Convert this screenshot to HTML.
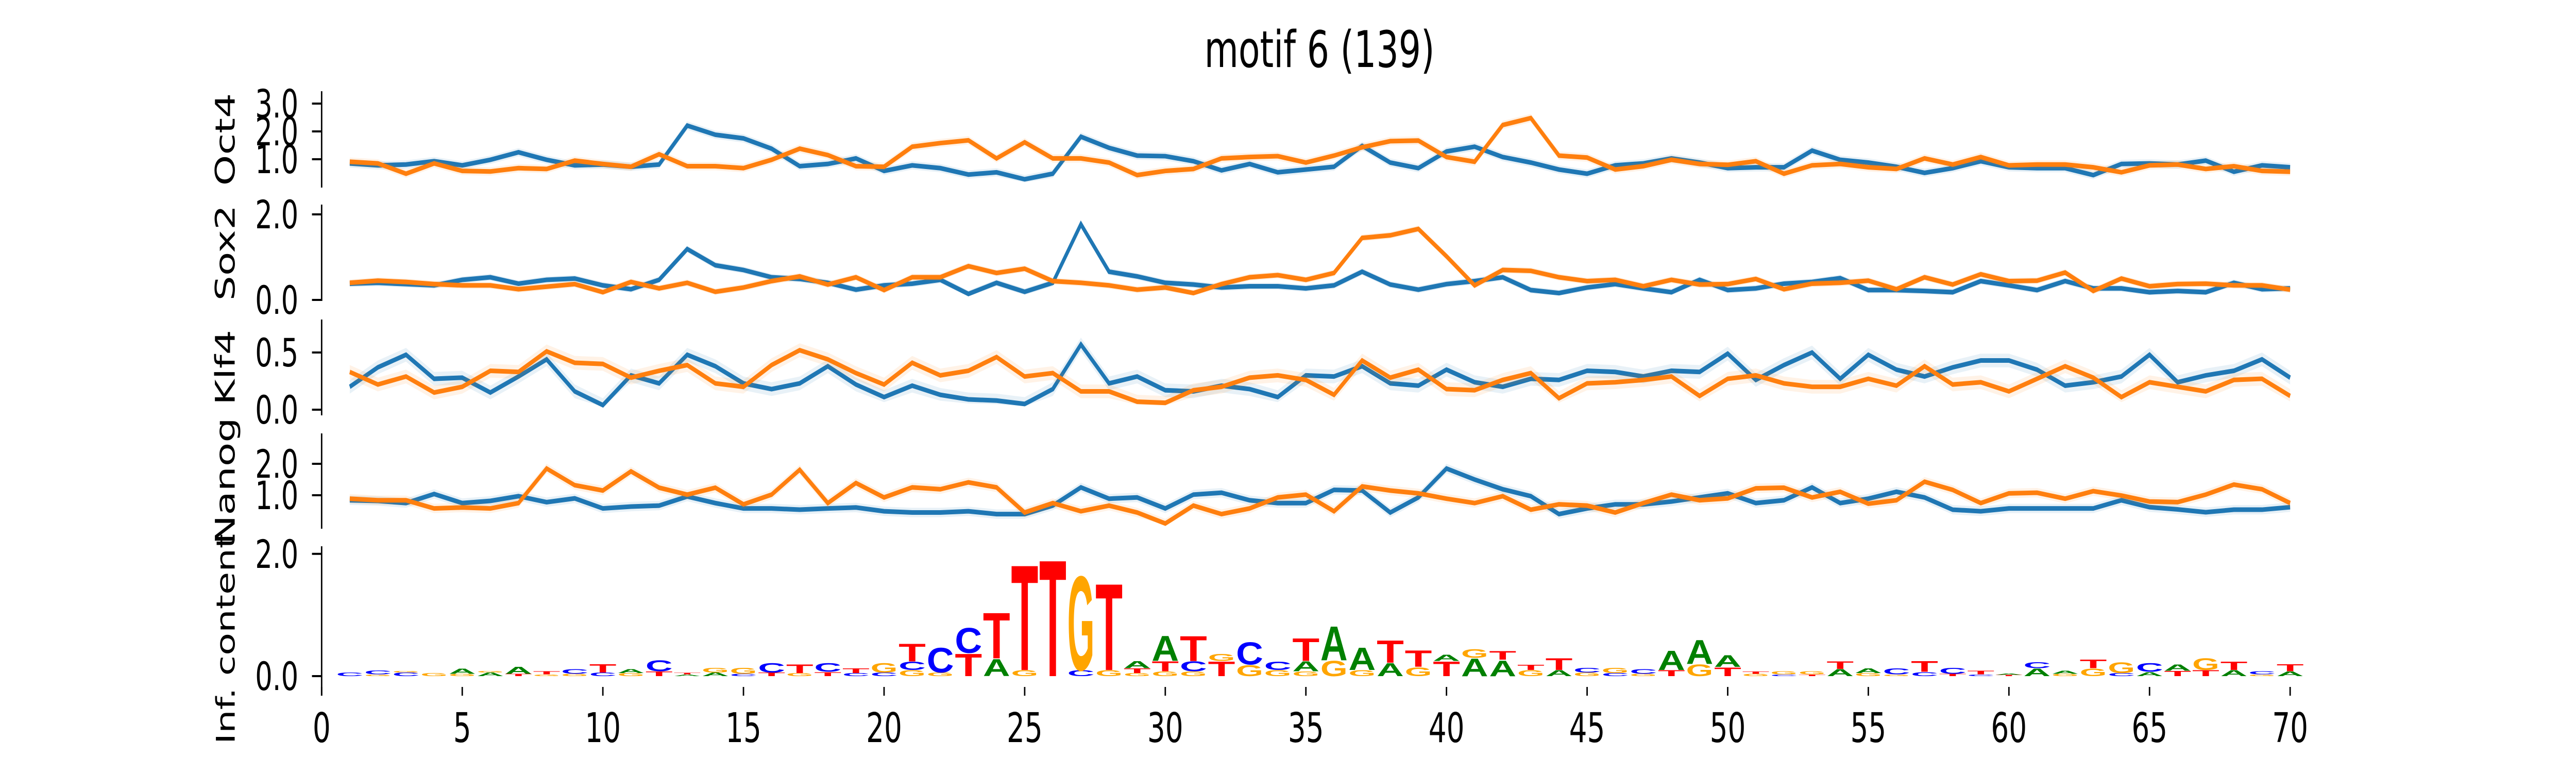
<!DOCTYPE html>
<html><head><meta charset="utf-8"><title>motif 6</title>
<style>html,body{margin:0;padding:0;background:#fff;width:100%;height:100%;overflow:hidden}svg{display:block;position:absolute;left:0;top:0;width:100vw;height:100vh}</style>
</head><body>
<svg id="chart" xmlns="http://www.w3.org/2000/svg" viewBox="0 0 7200 1500" preserveAspectRatio="none">
<text x="3688" y="130" font-family="DejaVu Sans, Liberation Sans, sans-serif" font-size="98" text-anchor="middle">motif 6 (139)</text>
<g id="panels"></g>
</svg>
<script>
const positions = [1,2,3,4,5,6,7,8,9,10,11,12,13,14,15,16,17,18,19,20,21,22,23,24,25,26,27,28,29,30,31,32,33,34,35,36,37,38,39,40,41,42,43,44,45,46,47,48,49,50,51,52,53,54,55,56,57,58,59,60,61,62,63,64,65,66,67,68,69,70];
const xTicks = [0,5,10,15,20,25,30,35,40,45,50,55,60,65,70];
const oct4Blue = [0.85,0.78,0.81,0.93,0.78,0.98,1.25,0.98,0.78,0.81,0.73,0.81,2.21,1.88,1.75,1.38,0.75,0.83,1.03,0.58,0.78,0.68,0.45,0.53,0.28,0.48,1.81,1.41,1.13,1.11,0.93,0.6,0.83,0.53,0.63,0.73,1.48,0.88,0.68,1.28,1.45,1.08,0.88,0.63,0.48,0.78,0.85,1.03,0.88,0.68,0.71,0.71,1.31,0.98,0.88,0.73,0.51,0.68,0.93,0.71,0.68,0.68,0.43,0.83,0.85,0.81,0.95,0.55,0.78,0.71];
const oct4Orange = [0.91,0.85,0.48,0.85,0.58,0.56,0.68,0.65,0.95,0.83,0.73,1.18,0.75,0.75,0.68,0.98,1.38,1.15,0.75,0.73,1.45,1.58,1.68,1.03,1.61,1.03,1.03,0.88,0.43,0.58,0.65,1.03,1.08,1.11,0.88,1.13,1.43,1.65,1.67,1.08,0.91,2.23,2.48,1.13,1.06,0.63,0.75,0.98,0.83,0.8,0.93,0.48,0.78,0.83,0.71,0.65,1.03,0.81,1.08,0.78,0.81,0.81,0.71,0.53,0.78,0.81,0.65,0.75,0.58,0.55];
const sox2Blue = [0.38,0.40,0.37,0.34,0.47,0.53,0.38,0.47,0.50,0.34,0.25,0.47,1.19,0.81,0.70,0.53,0.49,0.40,0.24,0.34,0.38,0.47,0.14,0.40,0.19,0.40,1.77,0.66,0.55,0.40,0.36,0.29,0.32,0.32,0.27,0.34,0.66,0.36,0.24,0.37,0.44,0.53,0.23,0.16,0.29,0.37,0.27,0.18,0.47,0.23,0.27,0.38,0.42,0.51,0.23,0.23,0.21,0.18,0.44,0.34,0.23,0.44,0.27,0.27,0.18,0.21,0.18,0.40,0.25,0.27];
const sox2Orange = [0.40,0.45,0.42,0.37,0.34,0.34,0.25,0.31,0.37,0.18,0.42,0.27,0.40,0.19,0.29,0.44,0.55,0.36,0.53,0.23,0.53,0.53,0.79,0.63,0.73,0.44,0.40,0.34,0.24,0.29,0.16,0.37,0.53,0.58,0.47,0.63,1.45,1.51,1.66,1.02,0.34,0.70,0.68,0.53,0.44,0.47,0.32,0.47,0.36,0.37,0.49,0.25,0.38,0.40,0.45,0.25,0.53,0.36,0.60,0.44,0.45,0.64,0.21,0.50,0.32,0.37,0.38,0.34,0.34,0.24];
const klf4Blue = [0.20,0.37,0.48,0.27,0.28,0.15,0.29,0.44,0.16,0.04,0.30,0.23,0.48,0.38,0.23,0.18,0.23,0.38,0.22,0.11,0.21,0.13,0.09,0.08,0.05,0.18,0.57,0.23,0.29,0.17,0.16,0.21,0.18,0.11,0.30,0.29,0.38,0.23,0.21,0.35,0.24,0.20,0.27,0.26,0.34,0.33,0.29,0.34,0.33,0.49,0.26,0.39,0.50,0.27,0.48,0.35,0.29,0.37,0.43,0.43,0.35,0.21,0.24,0.29,0.48,0.24,0.30,0.34,0.44,0.28];
const klf4Orange = [0.33,0.22,0.29,0.15,0.20,0.34,0.33,0.51,0.41,0.40,0.28,0.34,0.39,0.23,0.20,0.39,0.52,0.44,0.32,0.22,0.41,0.30,0.34,0.46,0.29,0.32,0.16,0.16,0.07,0.06,0.17,0.20,0.28,0.30,0.26,0.13,0.43,0.28,0.35,0.18,0.17,0.26,0.32,0.10,0.23,0.24,0.26,0.29,0.12,0.27,0.30,0.23,0.20,0.20,0.27,0.21,0.38,0.22,0.24,0.16,0.27,0.38,0.28,0.11,0.24,0.20,0.16,0.26,0.27,0.12];
const nanogBlue = [0.84,0.82,0.75,1.04,0.75,0.82,0.97,0.78,0.90,0.58,0.64,0.67,0.96,0.75,0.58,0.58,0.54,0.58,0.61,0.49,0.45,0.45,0.49,0.40,0.40,0.67,1.25,0.89,0.93,0.58,1.02,1.08,0.84,0.75,0.75,1.17,1.15,0.45,0.93,1.85,1.50,1.19,0.97,0.40,0.58,0.71,0.71,0.80,0.93,1.06,0.75,0.84,1.25,0.75,0.89,1.11,0.93,0.54,0.49,0.58,0.58,0.58,0.58,0.84,0.62,0.55,0.46,0.54,0.54,0.62];
const nanogOrange = [0.89,0.84,0.84,0.58,0.61,0.58,0.75,1.85,1.32,1.15,1.76,1.24,1.02,1.24,0.71,1.02,1.81,0.75,1.39,0.93,1.25,1.19,1.41,1.25,0.45,0.75,0.49,0.67,0.45,0.10,0.67,0.40,0.58,0.93,1.02,0.49,1.28,1.15,1.06,0.89,0.75,0.97,0.54,0.71,0.67,0.45,0.75,1.02,0.84,0.90,1.22,1.24,0.93,1.11,0.73,0.84,1.43,1.17,0.75,1.06,1.08,0.89,1.13,0.99,0.80,0.78,1.02,1.34,1.19,0.75];
const oct4Ticks = [1,2,3];
const sox2Ticks = [0,2];
const klf4Ticks = [0,0.5];
const nanogTicks = [1,2];
const logoTicks = [0,2];
const logoLetters = ["C","GC","CG","G","GA","AG","TA","GT","GC","CT","GA","TC","AT","AG","CG","TC","GT","TC","CT","CG","GCT","GC","TC","AT","GT","T","CG","GT","GTA","GTA","GCT","TG","GC","GC","GAT","GA","GA","AT","GT","TA","AG","AT","GT","AT","GC","CG","GC","TA","GA","TA","GT","CG","TG","AT","GA","GC","CT","TC","CT","TA","AC","GA","GT","CG","AC","TA","TG","AT","GC","AT"];
const logoHeights = [[0.06],[0.03,0.07],[0.06,0.03],[0.05],[0.04,0.09],[0.06,0.03],[0.04,0.12],[0.03,0.05],[0.04,0.08],[0.06,0.14],[0.05,0.07],[0.08,0.19],[0.03,0.03],[0.06,0.08],[0.04,0.10],[0.06,0.16],[0.05,0.15],[0.07,0.15],[0.05,0.08],[0.06,0.16],[0.1,0.14,0.3],[0.06,0.42],[0.38,0.43],[0.29,0.78],[0.1,1.8],[1.99],[0.1,1.61],[0.1,1.48],[0.05,0.08,0.12],[0.08,0.17,0.43],[0.08,0.17,0.43],[0.25,0.12],[0.19,0.38],[0.1,0.14],[0.08,0.17,0.39],[0.26,0.58],[0.1,0.38],[0.22,0.38],[0.15,0.28],[0.25,0.11],[0.3,0.15],[0.27,0.15],[0.1,0.09],[0.1,0.2],[0.06,0.08],[0.05,0.09],[0.04,0.08],[0.1,0.33],[0.2,0.41],[0.15,0.2],[0.04,0.04],[0.03,0.05],[0.03,0.05],[0.12,0.13],[0.05,0.08],[0.03,0.1],[0.07,0.18],[0.04,0.1],[0.03,0.06],[0.02,0.02],[0.13,0.1],[0.04,0.05],[0.13,0.15],[0.05,0.18],[0.07,0.15],[0.09,0.11],[0.1,0.2],[0.1,0.14],[0.03,0.05],[0.08,0.12]];

const NS = 'http://www.w3.org/2000/svg';
const root = document.getElementById('panels');
const X0 = 899, XU = 78.6;
function xs(v){ return X0 + v*XU; }
function mk(tag, attrs, parent){ const e=document.createElementNS(NS,tag); for(const k in attrs) e.setAttribute(k,attrs[k]); (parent||root).appendChild(e); return e; }
const FONT = 'DejaVu Sans, Liberation Sans, sans-serif';
const FS = 76;

function drawAxis(g, name, label, zero, ppu, top, bottom, ticks, labelY, labelFs){
  const ys = v => zero - v*ppu;
  const sp = mk('line',{x1:X0,x2:X0,y1:top,y2:bottom,stroke:'#000','stroke-width':4},g);
  
  
  ticks.forEach(t=>{
    const y = ys(t);
    const tl = mk('line',{x1:X0-27,x2:X0,y1:y,y2:y,stroke:'#000','stroke-width':4},g);
    
    
    const tx = mk('text',{x:834,y:y+27,'font-family':FONT,'font-size':FS,'text-anchor':'end'},g);
    tx.textContent = t.toFixed(1);
    
    
  });
  const lb = mk('text',{x:0,y:0,'font-family':FONT,'font-size':labelFs,'text-anchor':'middle',transform:`translate(656,${labelY}) rotate(-90)`},g);
  lb.textContent = label;
  
  
  return ys;
}

function drawSeries(g, name, vals, ys, color, spread){
  let up='', dn='';
  vals.forEach((v,i)=>{ up += (i?'L':'M')+xs(positions[i])+','+ys(v+spread)+' '; });
  for(let i=vals.length-1;i>=0;i--){ dn += 'L'+xs(positions[i])+','+ys(Math.max(vals[i]-spread, vals[i]*0.6))+' '; }
  const band = mk('path',{d:up+dn+'Z',fill:color,'fill-opacity':0.1,stroke:'none'},g);
  
  
  let d='';
  vals.forEach((v,i)=>{ d += (i?'L':'M')+xs(positions[i])+','+ys(v)+' '; });
  const ln = mk('path',{d:d,fill:'none',stroke:color,'stroke-width':9,'stroke-linejoin':'miter'},g);
  
  
}

const panelDefs = [
  {name:'oct4',label:'Oct4',zero:363,ppu:54,top:177,bottom:364,ticks:oct4Ticks,b:oct4Blue,o:oct4Orange,s:0.15},
  {name:'sox2',label:'Sox2',zero:582,ppu:83,top:397,bottom:584,ticks:sox2Ticks,b:sox2Blue,o:sox2Orange,s:0.08},
  {name:'klf4',label:'Klf4',zero:795,ppu:222,top:620,bottom:806,ticks:klf4Ticks,b:klf4Blue,o:klf4Orange,s:0.06},
  {name:'nanog',label:'Nanog',zero:1022,ppu:61,top:841,bottom:1026,ticks:nanogTicks,b:nanogBlue,o:nanogOrange,s:0.15}
];
panelDefs.forEach(p=>{
  const g = mk('g',{});
  
  
  const ys = drawAxis(g,p.name,p.label,p.zero,p.ppu,p.top,p.bottom,p.ticks,(p.top+p.bottom)/2,76);
  drawSeries(g,p.name+'-blue',p.b,ys,'#1f77b4',p.s);
  drawSeries(g,p.name+'-orange',p.o,ys,'#ff7f0e',p.s);
});

const lg = mk('g',{});


const LPPU = 118.6;
const lys = drawAxis(lg,'logo','Inf. content',1312,LPPU,1060,1350,logoTicks,1240,72);
const colors = {A:'#008000',C:'#0000ff',G:'#ffa500',T:'#ff0000'};
logoLetters.forEach((s,i)=>{
  const hs = logoHeights[i];
  let base = 0;
  for(let j=0;j<s.length;j++){
    const h = hs[j]; const ch = s[j];
    const yb = lys(base), hp = h*LPPU;
    const sy = hp/72.9;
    const t = mk('text',{x:0,y:0,'font-family':'Liberation Sans, DejaVu Sans, sans-serif','font-weight':'bold','font-size':100,fill:colors[ch],textLength:76,lengthAdjust:'spacingAndGlyphs',transform:`translate(${xs(positions[i])-38},${yb}) scale(1,${sy})`},lg);
    t.textContent = ch;
    
    
    base += h;
  }
});
xTicks.forEach(t=>{
  const x = xs(t);
  const tl = mk('line',{x1:x,x2:x,y1:1333,y2:1350,stroke:'#000','stroke-width':4},lg);
  
  
  const tx = mk('text',{x:x,y:1440,'font-family':FONT,'font-size':79,'text-anchor':'middle'},lg);
  tx.textContent = String(t);
  
  
});
</script>
</body></html>
